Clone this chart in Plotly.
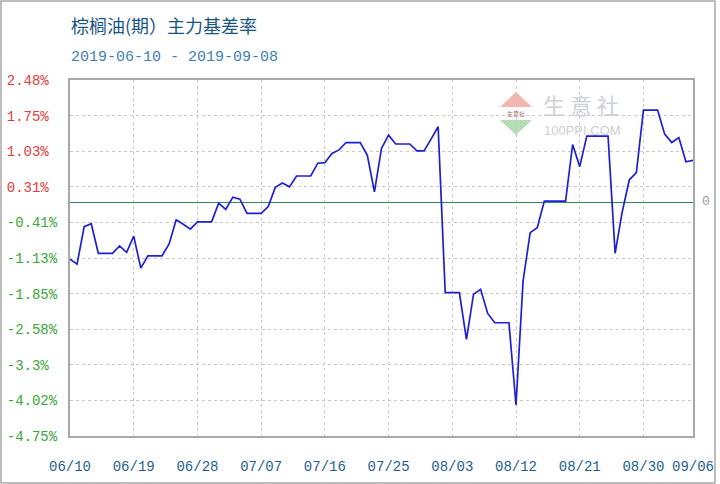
import pandas as pd
import numpy as np
import plotly.graph_objects as go

# ---- data ----
start_date = "2019-06-10"
end_date = "2019-09-06"
dates = pd.date_range(start_date, end_date, freq="D")

basis_rate = [
    -1.16, -1.26, -0.50, -0.44, -1.04, -1.04, -1.04, -0.89, -1.02, -0.69,
    -1.34, -1.09, -1.09, -1.09, -0.85, -0.36, -0.45, -0.55, -0.40, -0.40,
    -0.40, -0.02, -0.15, 0.10, 0.06, -0.23, -0.23, -0.23, -0.09, 0.30,
    0.39, 0.31, 0.53, 0.53, 0.53, 0.79, 0.80, 0.99, 1.06, 1.21,
    1.21, 1.21, 0.95, 0.21, 1.09, 1.36, 1.18, 1.18, 1.18, 1.04,
    1.04, 1.28, 1.53, -1.84, -1.84, -1.84, -2.79, -1.87, -1.77, -2.26,
    -2.45, -2.45, -2.45, -4.12, -1.60, -0.62, -0.52, 0.02, 0.02, 0.02,
    0.02, 1.17, 0.72, 1.34, 1.34, 1.34, 1.34, -1.04, -0.20, 0.45,
    0.60, 1.87, 1.87, 1.87, 1.38, 1.21, 1.31, 0.82, 0.85,
]

x_tick_dates = ["2019-06-10", "2019-06-19", "2019-06-28", "2019-07-07", "2019-07-16",
                "2019-07-25", "2019-08-03", "2019-08-12", "2019-08-21", "2019-08-30",
                "2019-09-06"]
x_tick_labels = ["06/10", "06/19", "06/28", "07/07", "07/16", "07/25",
                 "08/03", "08/12", "08/21", "08/30", "09/06"]

y_min, y_max = -4.75, 2.48
y_tick_labels = ["-4.75%", "-4.02%", "-3.3%", "-2.58%", "-1.85%", "-1.13%",
                 "-0.41%", "0.31%", "1.03%", "1.75%", "2.48%"]

title_text = "棕榈油(期）主力基差率"
subtitle_text = "2019-06-10 - 2019-09-08"

# ---- layout geometry ----
W, H = 720, 484
L, R, T, B = 70, 693, 80, 436

def px(x):
    return (x - L) / (R - L)

def py(y):
    return (B - y) / (B - T)

y_tick_vals = list(np.linspace(y_min, y_max, len(y_tick_labels)))
RED = "#e23b3b"
GREEN = "#3aa63a"
y_tick_text = []
for lab in y_tick_labels:
    col = RED if not lab.startswith("-") else GREEN
    padded = lab + "\u00a0" * (6 - len(lab))
    y_tick_text.append(f'<span style="color:{col}">{padded}</span>')

MONO = "Liberation Mono, DejaVu Sans Mono, monospace"

fig = go.Figure()
fig.add_trace(go.Scatter(
    x=dates, y=basis_rate, mode="lines",
    line=dict(color="#1f1fd6", width=1.7),
    showlegend=False, hoverinfo="x+y",
))

fig.update_layout(
    width=W, height=H,
    margin=dict(l=L, r=W - R, t=T, b=H - B, pad=0, autoexpand=False),
    paper_bgcolor="white", plot_bgcolor="white",
    showlegend=False,
    xaxis=dict(
        type="date", automargin=False,
        range=[start_date, end_date],
        tickvals=x_tick_dates, ticktext=x_tick_labels,
        tickfont=dict(family=MONO, size=14, color="#1f5f8c"),
        showgrid=True, gridcolor="#c8c8c8", griddash="3px,3px", gridwidth=1,
        showline=True, linecolor="#a8a8a8", linewidth=2, mirror=True,
        ticks="", ticklabelstandoff=16, zeroline=False,
    ),
    yaxis=dict(
        automargin=False,
        range=[y_min, y_max],
        tickvals=y_tick_vals, ticktext=y_tick_text,
        tickfont=dict(family=MONO, size=14),
        showgrid=True, gridcolor="#c8c8c8", griddash="3px,3px", gridwidth=1,
        showline=True, linecolor="#a8a8a8", linewidth=2, mirror=True,
        ticks="", ticklabelstandoff=8,
        zeroline=True, zerolinecolor="#2e8b57", zerolinewidth=1.2,
    ),
)

# outer frame
fig.add_shape(type="rect", xref="paper", yref="paper",
              x0=px(1), x1=px(715), y0=py(483), y1=py(1),
              line=dict(color="#a8a8a8", width=1.5), fillcolor="rgba(0,0,0,0)", layer="below")

# watermark logo
fig.add_shape(type="path", xref="paper", yref="paper",
              path=f"M {px(500)},{py(107)} L {px(532)},{py(107)} L {px(516)},{py(92)} Z",
              fillcolor="#f4b7b0", line=dict(width=0), layer="below")
fig.add_shape(type="path", xref="paper", yref="paper",
              path=f"M {px(500)},{py(120)} L {px(532)},{py(120)} L {px(516)},{py(135)} Z",
              fillcolor="#b5dcb5", line=dict(width=0), layer="below")

annotations = [
    dict(text=title_text, x=px(69), y=py(25), xanchor="left", yanchor="middle",
         font=dict(family="Noto Sans CJK SC", size=18, color="#1a5682")),
    dict(text=subtitle_text, x=px(69), y=py(58), xanchor="left", yanchor="middle",
         font=dict(family=MONO, size=15, color="#3f80b2")),
    dict(text="生 意 社", x=px(541), y=py(104), xanchor="left", yanchor="middle",
         font=dict(family="Noto Sans CJK SC", size=22, color="#cdd0da")),
    dict(text="100PPI.COM", x=px(542), y=py(130), xanchor="left", yanchor="middle",
         font=dict(family="Liberation Sans, Arial", size=13, color="#cfcfcf")),
    dict(text="生意社", x=px(516), y=py(113.5), xanchor="center", yanchor="middle",
         font=dict(family="Noto Sans CJK SC", size=6, color="#b07070")),
    dict(text="0", x=px(700), y=py(201), xanchor="left", yanchor="middle",
         font=dict(family=MONO, size=13, color="#9a9a9a")),
]
for a in annotations:
    a.update(xref="paper", yref="paper", showarrow=False)
fig.update_layout(annotations=annotations)

fig.write_html("out.html",
               config={"displayModeBar": False},
               post_script="document.body.style.margin='0';document.body.style.padding='0';")
